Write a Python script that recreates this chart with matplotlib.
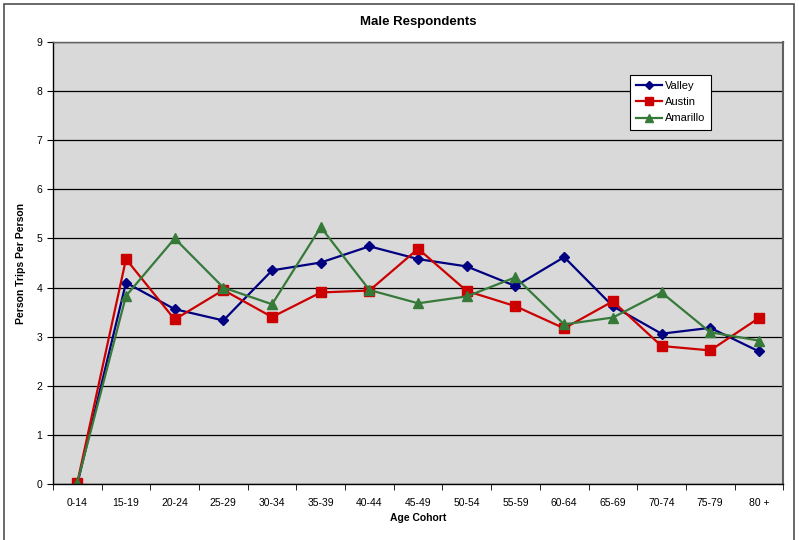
import numpy as np
import matplotlib.pyplot as plt
from matplotlib.patches import Rectangle

plt.rcParams['font.family'] = ['Liberation Sans', 'DejaVu Sans']

ages = ['0-14', '15-19', '20-24', '25-29', '30-34', '35-39', '40-44', '45-49',
        '50-54', '55-59', '60-64', '65-69', '70-74', '75-79', '80 +']
valley = [0.0, 4.10, 3.56, 3.33, 4.35, 4.51, 4.84, 4.58, 4.43, 4.03, 4.62, 3.62, 3.06, 3.18, 2.70]
austin = [0.03, 4.58, 3.35, 3.95, 3.40, 3.90, 3.94, 4.79, 3.93, 3.62, 3.17, 3.72, 2.81, 2.72, 3.38]
amarillo = [0.03, 3.83, 5.00, 4.00, 3.66, 5.23, 3.95, 3.68, 3.82, 4.21, 3.25, 3.39, 3.90, 3.09, 2.92]

fig = plt.figure(figsize=(7.99, 5.40), dpi=100)
ax = fig.add_axes([0.0663, 0.1037, 0.914, 0.8185])

# border round the whole chart
fig.patches.append(Rectangle((0.005, -0.01), 0.989, 1.0025, transform=fig.transFigure,
                             fill=False, edgecolor='#505050', linewidth=1.2))

x = np.arange(len(ages))
ax.set_facecolor('#D9D9D9')
ax.plot(x, valley, color='#000080', marker='D', markersize=5.5, linewidth=1.6, label='Valley')
ax.plot(x, austin, color='#CC0000', marker='s', markersize=7, linewidth=1.6, label='Austin')
ax.plot(x, amarillo, color='#367A3A', marker='^', markersize=7.5, linewidth=1.6, label='Amarillo')

ax.set_xlim(-0.5, len(ages) - 0.5)
ax.set_ylim(0, 9)
ax.set_yticks(np.arange(0, 10, 1))
ax.set_xticks(x)
ax.set_xticklabels(ages)
ax.set_xticks(np.arange(-0.5, len(ages), 1), minor=True)
ax.tick_params(axis='x', which='major', length=0, labelsize=7.5, pad=10)
ax.tick_params(axis='x', which='minor', length=4, direction='out')
ax.tick_params(axis='y', length=4, direction='out', labelsize=7.5)

ax.set_axisbelow(True)
ax.yaxis.grid(True, color='black', linewidth=0.9)
for s in ax.spines.values():
    s.set_color('black')
    s.set_linewidth(1.0)
ax.spines['top'].set_color('#606060')
ax.spines['right'].set_color('#606060')
ax.spines['right'].set_linewidth(1.5)

ax.set_title('Male Respondents', fontsize=9.5, fontweight='bold', pad=12)
ax.set_xlabel('Age Cohort', fontsize=7.5, fontweight='bold', labelpad=4)
ax.set_ylabel('Person Trips Per Person', fontsize=7.5, fontweight='bold', labelpad=8)

leg = ax.legend(loc='upper left', bbox_to_anchor=(0.79, 0.925), fontsize=8,
                fancybox=False, framealpha=1, edgecolor='black', handlelength=2.3,
                markerscale=0.8, borderpad=0.55, labelspacing=0.55, handletextpad=0.3,
                borderaxespad=0)
leg.get_frame().set_linewidth(0.8)

fig.savefig('out.png', dpi=100)
